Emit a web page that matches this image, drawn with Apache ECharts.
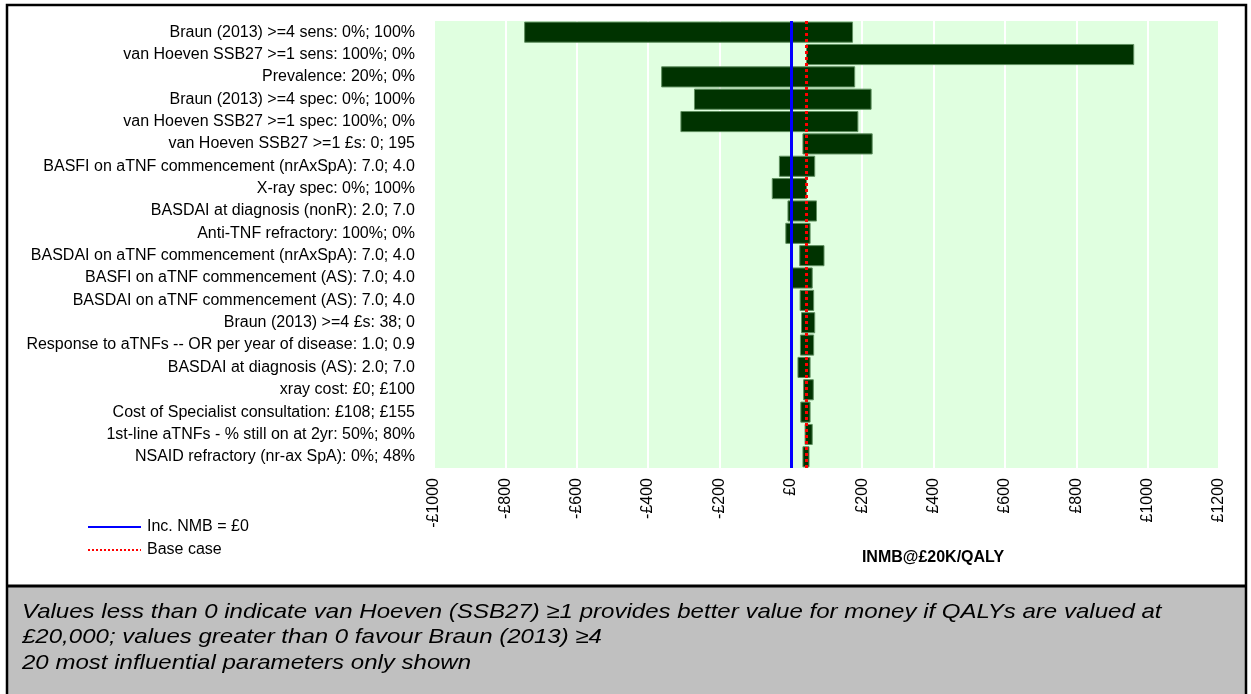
<!DOCTYPE html>
<html>
<head>
<meta charset="utf-8">
<script src="https://cdn.jsdelivr.net/npm/echarts@6/dist/echarts.min.js"></script>
<style>
html,body{margin:0;padding:0;background:#fff;}
#chart{width:1251px;height:694px;}
</style>
</head>
<body>
<div id="chart"></div>
<script>
const categories = [
  'Braun (2013) >=4 sens: 0%; 100%',
  'van Hoeven SSB27 >=1 sens: 100%; 0%',
  'Prevalence: 20%; 0%',
  'Braun (2013) >=4 spec: 0%; 100%',
  'van Hoeven SSB27 >=1 spec: 100%; 0%',
  'van Hoeven SSB27 >=1 £s: 0; 195',
  'BASFI on aTNF commencement (nrAxSpA): 7.0; 4.0',
  'X-ray spec: 0%; 100%',
  'BASDAI at diagnosis (nonR): 2.0; 7.0',
  'Anti-TNF refractory: 100%; 0%',
  'BASDAI on aTNF commencement (nrAxSpA): 7.0; 4.0',
  'BASFI on aTNF commencement (AS): 7.0; 4.0',
  'BASDAI on aTNF commencement (AS): 7.0; 4.0',
  'Braun (2013) >=4 £s: 38; 0',
  'Response to aTNFs -- OR per year of disease: 1.0; 0.9',
  'BASDAI at diagnosis (AS): 2.0; 7.0',
  'xray cost: £0; £100',
  'Cost of Specialist consultation: £108; £155',
  '1st-line aTNFs - % still on at 2yr: 50%; 80%',
  'NSAID refractory (nr-ax SpA): 0%; 48%'
];
const lowValues  = [-746, 44, -362, -270, -308, 34, -32, -52, -8, -14, 25, 4, 26, 30, 27, 20, 36, 28, 40, 34];
const highValues = [173, 961, 179, 225, 188, 228, 67, 44, 72, 54, 93, 60, 64, 67, 64, 54, 63, 54, 60, 51];
const baseCase = 44;
const zeroLine = 0;
const xTicks = { min: -1000, max: 1200, interval: 200 };
const axisTitle = 'INMB@£20K/QALY';
const legendNames = ['Inc. NMB = £0', 'Base case'];
const noteLines = [
  'Values less than 0 indicate van Hoeven (SSB27) \u22651 provides better value for money if QALYs are valued at',
  '£20,000; values greater than 0 favour Braun (2013) \u22654',
  '20 most influential parameters only shown'
];

const barData = categories.map((c, i) => [i, lowValues[i], highValues[i]]);

const chart = echarts.init(document.getElementById('chart'), null, { renderer: 'canvas' });
const font = 'Liberation Sans, Arial, sans-serif';

chart.setOption({
  animation: false,
  textStyle: { fontFamily: font },
  grid: {
    left: 434, right: 32, top: 21, bottom: 226,
    show: true, backgroundColor: '#e0ffe0', borderWidth: 0
  },
  xAxis: {
    type: 'value',
    min: xTicks.min, max: xTicks.max, interval: xTicks.interval,
    axisLine: { show: false },
    axisTick: { show: false },
    splitLine: { show: true, lineStyle: { color: '#ffffff', width: 2 } },
    axisLabel: {
      rotate: 90, margin: 10, fontSize: 16, color: '#000', fontFamily: font,
      formatter: v => (v < 0 ? '-£' + Math.abs(v) : '£' + v)
    }
  },
  yAxis: {
    type: 'category',
    inverse: true,
    data: categories,
    axisLine: { show: false },
    axisTick: { show: false },
    splitLine: { show: false },
    axisLabel: { fontSize: 16, color: '#000', margin: 19, fontFamily: font }
  },
  legend: {
    show: true,
    orient: 'vertical',
    left: 82, top: 514,
    itemWidth: 53, itemHeight: 14, itemGap: 7,
    itemStyle: { opacity: 0 },
    textStyle: { fontSize: 16, color: '#000', fontFamily: font, padding: [0, 0, 0, 1] },
    data: legendNames
  },
  series: [
    {
      type: 'custom',
      name: 'bars',
      data: barData,
      encode: { x: [1, 2], y: 0 },
      renderItem: function (params, api) {
        const idx = api.value(0);
        const p1 = api.coord([api.value(1), idx]);
        const p2 = api.coord([api.value(2), idx]);
        const h = api.size([0, 1])[1] * 0.9;
        return {
          type: 'rect',
          shape: { x: p1[0], y: p1[1] - h / 2, width: p2[0] - p1[0], height: h },
          style: { fill: '#003300', stroke: '#5f8f5f', lineWidth: 1 }
        };
      },
      z: 2
    },
    {
      type: 'line',
      name: legendNames[0],
      data: [],
      symbol: 'none',
      lineStyle: { color: '#0000ff', width: 3, type: 'solid' },
      itemStyle: { color: '#0000ff' },
      markLine: {
        silent: true, symbol: 'none', label: { show: false },
        lineStyle: { color: '#0000ff', width: 3, type: 'solid' },
        data: [{ xAxis: zeroLine }]
      },
      z: 3
    },
    {
      type: 'line',
      name: legendNames[1],
      data: [],
      symbol: 'none',
      lineStyle: { color: '#ff0000', width: 2, type: [2, 2] },
      itemStyle: { color: '#ff0000' },
      markLine: {
        silent: true, symbol: 'none', label: { show: false },
        lineStyle: { color: '#ff0000', width: 3, type: [3, 3] },
        data: [{ xAxis: baseCase }]
      },
      z: 4
    }
  ],
  graphic: [
    {
      type: 'rect', x: 8, y: 587, z: 0,
      shape: { width: 1238, height: 107 },
      style: { fill: '#c0c0c0' }
    },
    {
      type: 'line', z: 10,
      shape: { x1: 7, y1: 586, x2: 1246, y2: 586 },
      style: { stroke: '#000', lineWidth: 3 }
    },
    {
      type: 'polyline', z: 10,
      shape: { points: [[7, 700], [7, 5], [1246, 5], [1246, 700]] },
      style: { stroke: '#000', lineWidth: 2.5, fill: null }
    },
    {
      type: 'text', z: 10,
      x: 933, y: 558,
      style: {
        text: axisTitle, font: 'bold 16px ' + font, fill: '#000',
        align: 'center', verticalAlign: 'middle'
      }
    },
    {
      type: 'text', z: 10,
      x: 22, y: 599,
      scaleX: 1.145,
      style: {
        text: noteLines.join('\n'),
        font: 'italic 21px ' + font, fill: '#000',
        lineHeight: 25.5
      }
    }
  ]
});
</script>
</body>
</html>
